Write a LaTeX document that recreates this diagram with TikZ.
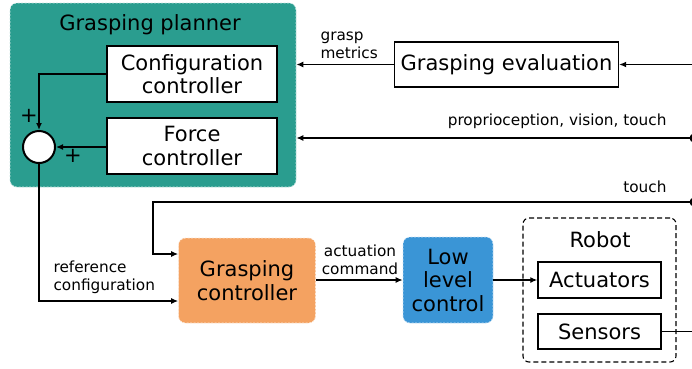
\documentclass[tikz,border=0pt]{standalone}
\usepackage{fontspec}
\setmainfont{DejaVu Sans}
\usetikzlibrary{arrows.meta,calc}
\definecolor{teal}{HTML}{2A9D8F}
\definecolor{orng}{HTML}{F4A261}
\definecolor{blu}{HTML}{3A95D6}
\tikzset{
  big/.style={font=\fontsize{21}{23.5}\selectfont},
  small/.style={font=\fontsize{15.3}{18}\selectfont},
  whitebox/.style={draw=black, line width=1.4pt, fill=white, inner sep=0pt, align=center, big},
  colorbox/.style={rounded corners=7pt, draw=white!75!#1, fill=#1, dash pattern=on 2pt off 1.5pt, line width=0.7pt, inner sep=0pt, align=center, big},
  conn/.style={line width=1.3pt, -{Latex[length=7pt,width=6pt]}},
  plain/.style={line width=1.3pt},
}
\begin{document}
\begin{tikzpicture}[x=1pt,y=-1pt]
\useasboundingbox (0,0) rectangle (692,368);
% planner
\node[colorbox=teal, minimum width=286pt, minimum height=184pt] (planner) at (153,95) {};
\node[big] (ptitle) at (150,25) {Grasping planner};
\node[whitebox, minimum width=170pt, minimum height=56pt] (cfg) at (192,74) {Configuration\\controller};
\node[whitebox, minimum width=170pt, minimum height=56pt] (force) at (192,146) {Force\\controller};
\node[circle, draw=black, line width=2pt, fill=white, minimum size=32pt, inner sep=0pt] (sum) at (39,147) {};
\node[big] (plus1) at (29,116) {+};
\node[big] (plus2) at (73,156) {+};
% evaluation
\node[whitebox, minimum width=224pt, minimum height=45pt] (eval) at (506.5,64.5) {Grasping evaluation};
% lower row
\node[colorbox=orng, minimum width=137pt, minimum height=85pt] (gc) at (247,280.5) {Grasping\\controller};
\node[colorbox=blu, minimum width=90pt, minimum height=86pt] (llc) at (448,280) {Low\\level\\control};
\node[draw=black, dash pattern=on 5pt off 3pt, line width=1.1pt, rounded corners=6pt, minimum width=153pt, minimum height=144pt] (robot) at (599.5,290) {};
\node[big] (rlabel) at (600,240) {Robot};
\node[whitebox, minimum width=123pt, minimum height=36pt] (act) at (599.5,280) {Actuators};
\node[whitebox, minimum width=123pt, minimum height=35pt] (sens) at (599.5,331.5) {Sensors};
% bus
\coordinate (b1) at (694,64.5);
\coordinate (b2) at (694,138);
\coordinate (b3) at (694,202);
\coordinate (b4) at (694,331.5);
\coordinate (tc) at (153,202);
\draw[plain] (b1) -- (b4);
\fill (b2) circle (4.5pt);
\fill (b3) circle (4.5pt);
% connectors
\draw[conn] (b1) -- (eval.east);
\draw[conn] (eval.west) -- (eval.west -| planner.east);
\node[small, anchor=west, align=left] (gm) at (317,45) {grasp\\metrics};
\draw[conn] (b2) -- (b2 -| planner.east);
\node[small, anchor=east] (ppv) at (670,121) {proprioception, vision, touch};
\draw[conn] (b3) -- (tc) -- (tc |- 0,254) -- (gc.west |- 0,254);
\node[small, anchor=east] (tl) at (670,187) {touch};
\draw[conn] (cfg.west) -| (sum.north);
\draw[conn] (force.west |- sum) -- (sum.east);
\draw[conn] (sum.south) |- (gc.west |- 0,301);
\node[small, anchor=west, align=left] (rc) at (50,277) {reference\\configuration};
\draw[conn] (gc.east |- llc.west) -- (llc.west);
\node[small, align=center] (ac) at (360,260) {actuation\\command};
\draw[conn] (llc.east) -- (act.west);
\draw[plain] (sens.east) -- (b4);
\end{tikzpicture}
\end{document}
